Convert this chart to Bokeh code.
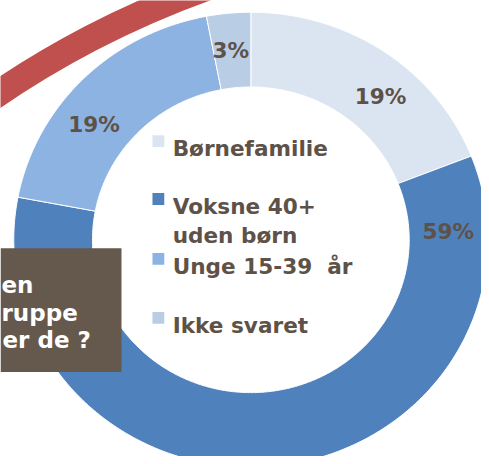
import math
from bokeh.plotting import figure
from bokeh.models import Range1d
from bokeh.core.properties import value
from bokeh.embed import file_html
from bokeh.resources import INLINE

# ---- data ----
categories = ["Børnefamilie", "Voksne 40+\nuden børn", "Unge 15-39\u00a0 år", "Ikke svaret"]
shares = [19, 59, 19, 3]
colors = ["#dbe5f1", "#4f81bd", "#8db3e2", "#b9cde5"]
title_lines = ["en", "ruppe", "er de ?"]

# ---- layout (reference pixel coordinates, 489x464) ----
REF_W, REF_H = 489, 464
def Y(sy):
    return REF_H - sy

CX, CY = 254.5, Y(243.5)
RXO, RYO = 241.0, 231.5
RXI, RYI = 161.0, 155.5
LABEL_RX, LABEL_RY = 201.0, 193.5
label_angles = [41, 87.5, 307.5, 354.2]

TEXT_COLOR = "#5e5248"
FONT = value("DejaVu Sans")
FS = "21.6px"

p = figure(width=481, height=456, x_range=Range1d(0, REF_W), y_range=Range1d(0, REF_H),
           output_backend="svg", toolbar_location=None, x_axis_type=None, y_axis_type=None,
           min_border=0, outline_line_color=None)
p.grid.visible = False
p.background_fill_color = "white"
p.border_fill_color = "white"

# decorative red arc
p.annular_wedge(x=532, y=Y(885), inner_radius=940, outer_radius=967,
                start_angle=math.radians(95), end_angle=math.radians(140),
                color="#c0504d", line_color=None)

# donut slices (slightly elliptical, clockwise from 12 o'clock)
total = float(sum(shares))
xs, ys = [], []
cum = 0.0
for s in shares:
    a0 = cum / total * 360.0
    a1 = (cum + s) / total * 360.0
    n = max(int((a1 - a0) * 2), 6)
    ts = [math.radians(a0 + (a1 - a0) * k / n) for k in range(n + 1)]
    px = [CX + RXO * math.sin(t) for t in ts] + [CX + RXI * math.sin(t) for t in reversed(ts)]
    py = [CY + RYO * math.cos(t) for t in ts] + [CY + RYI * math.cos(t) for t in reversed(ts)]
    xs.append(px)
    ys.append(py)
    cum += s
p.patches(xs, ys, fill_color=colors, line_color="white", line_width=1)

# percentage labels
lx = [CX + LABEL_RX * math.sin(math.radians(a)) for a in label_angles]
ly = [CY + LABEL_RY * math.cos(math.radians(a)) for a in label_angles]
ltxt = [f"{round(s / total * 100)}%" for s in shares]
p.text(x=lx, y=ly, text=ltxt, text_font=FONT, text_font_style="bold", text_font_size=FS,
       text_color=TEXT_COLOR, text_align="center", text_baseline="middle")

# legend (inside the hole)
leg_baselines = [151, 210, 271, 331]
LINE_GAP = 29
p.rect(x=[160.5] * len(categories), y=[Y(b - 8) for b in leg_baselines], width=12, height=12,
       fill_color=colors, line_color=None)
tx, ty, tt = [], [], []
for cat, b in zip(categories, leg_baselines):
    for j, line in enumerate(cat.split("\n")):
        tx.append(175)
        ty.append(Y(b + LINE_GAP * j))
        tt.append(line)
p.text(x=tx, y=ty, text=tt, text_font=FONT, text_font_style="bold", text_font_size=FS,
       text_color=TEXT_COLOR, text_align="left", text_baseline="alphabetic")

# question box at left
p.quad(left=0, right=123, top=Y(252), bottom=Y(378), fill_color="#65584c", line_color=None)
p.text(x=[1, 1, 2], y=[Y(289), Y(318), Y(345)], text=title_lines, text_font=FONT,
       text_font_style="bold", text_font_size="23px", text_color="white",
       text_align="left", text_baseline="alphabetic")

open("out.html", "w").write(file_html(p, INLINE))
